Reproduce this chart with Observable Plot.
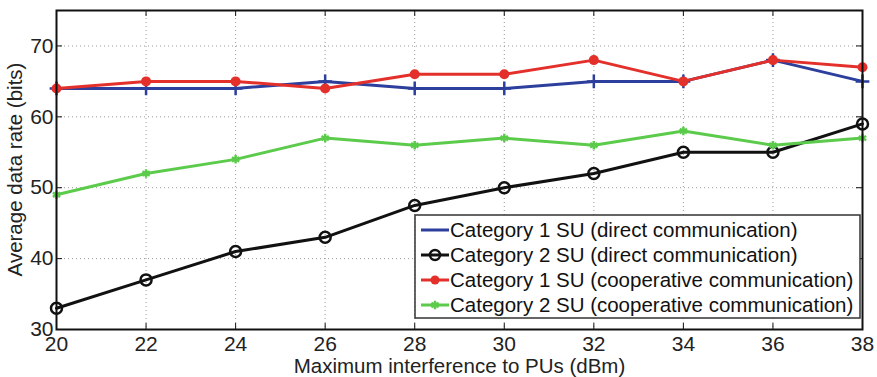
<!DOCTYPE html>
<html><head><meta charset="utf-8">
<script src="https://cdn.jsdelivr.net/npm/d3@7"></script>
<script src="https://cdn.jsdelivr.net/npm/@observablehq/plot@0.6"></script>
<style>body{margin:0;background:#fff;} svg{font-family:"Liberation Sans",Arial,sans-serif;}</style>
</head><body><div id="chart"></div>
<script>
const xs = [20,22,24,26,28,30,32,34,36,38];
const cat1Direct = [64,64,64,65,64,64,65,65,68,65];
const cat2Direct = [33,37,41,43,47.5,50,52,55,55,59];
const cat1Coop = [64,65,65,64,66,66,68,65,68,67];
const cat2Coop = [49,52,54,57,56,57,56,58,56,57];
const xTicks = [20,22,24,26,28,30,32,34,36,38];
const yTicks = [30,40,50,60,70];
const seriesNames = ["Category 1 SU (direct communication)","Category 2 SU (direct communication)","Category 1 SU (cooperative communication)","Category 2 SU (cooperative communication)"];
const colors = ["#2d3f9c","#111111","#e3302a","#5ccb4c"];

const W = 877, H = 377, mt = 10, mb = 48, ml = 56, mr = 15;
const ph = H - mt - mb, pw = W - ml - mr;
const tk = 6;
const FS = 20.5, TFS = 21;

const rows = (vals, s) => xs.map((x,i)=>({x, y: vals[i], s}));
const d0 = rows(cat1Direct,0), d1 = rows(cat2Direct,1), d2 = rows(cat1Coop,2), d3s = rows(cat2Coop,3);

const chart = Plot.plot({
  width: W, height: H, marginTop: mt, marginBottom: mb, marginLeft: ml, marginRight: mr,
  style: {fontFamily: '"Liberation Sans",Arial,sans-serif', fontSize: FS + "px", color: "#222"},
  x: {domain: [20,38], ticks: xTicks, label: null},
  y: {domain: [30,75], ticks: yTicks, label: null},
  marks: [
    Plot.gridX(xTicks, {stroke: "#999", strokeOpacity: 1, strokeDasharray: "1,3"}),
    Plot.gridY(yTicks, {stroke: "#999", strokeOpacity: 1, strokeDasharray: "1,3"}),
    Plot.ruleX(xTicks, {x: d=>d, insetTop: ph - tk, stroke: "#111"}),
    Plot.ruleX(xTicks, {x: d=>d, insetBottom: ph - tk, stroke: "#111"}),
    Plot.ruleY(yTicks, {y: d=>d, insetRight: pw - tk, stroke: "#111"}),
    Plot.ruleY(yTicks, {y: d=>d, insetLeft: pw - tk, stroke: "#111"}),
    Plot.axisX(xTicks, {tickSize: 0, tickPadding: 3, dy: 4, fontSize: TFS, fill: "#222"}),
    Plot.axisY(yTicks, {tickSize: 0, tickPadding: 3, fontSize: TFS, fill: "#222"}),
    Plot.line(d0, {x:"x", y:"y", stroke: colors[0], strokeWidth: 3}),
    Plot.dot(d0, {x:"x", y:"y", symbol: "plus", stroke: colors[0], strokeWidth: 2.5, r: 4.5}),
    Plot.line(d1, {x:"x", y:"y", stroke: colors[1], strokeWidth: 3}),
    Plot.dot(d1, {x:"x", y:"y", symbol: "circle", stroke: colors[1], fill: "none", strokeWidth: 2.5, r: 5.5}),
    Plot.line(d2, {x:"x", y:"y", stroke: colors[2], strokeWidth: 3}),
    Plot.dot(d2, {x:"x", y:"y", symbol: "circle", fill: colors[2], r: 5}),
    Plot.line(d3s, {x:"x", y:"y", stroke: colors[3], strokeWidth: 3}),
    Plot.dot(d3s, {x:"x", y:"y", symbol: "asterisk", stroke: colors[3], strokeWidth: 2.5, r: 4}),
    Plot.frame({stroke: "#111", strokeWidth: 2}),
    Plot.text(["Maximum interference to PUs (dBm)"], {frameAnchor: "bottom", dy: 43, fontSize: FS, fill: "#222"})
  ]
});
document.getElementById("chart").appendChild(chart);

const svg = d3.select(chart);
// y-axis label
svg.append("text").attr("transform", `translate(21.5,${mt + ph/2}) rotate(-90)`)
  .attr("text-anchor", "middle").attr("font-size", FS).attr("fill", "#222")
  .text("Average data rate (bits)");

// legend
const lg = svg.append("g").attr("text-anchor", "start");
const lx = 415, ly = 215, lw = 445, lh = 103;
lg.append("rect").attr("x", lx).attr("y", ly).attr("width", lw).attr("height", lh)
  .attr("fill", "#fff").attr("stroke", "#333").attr("stroke-width", 1.5);
seriesNames.forEach((name, i) => {
  const cy = ly + 15 + i * 25;
  const g = lg.append("g");
  g.append("line").attr("x1", lx + 6).attr("x2", lx + 34).attr("y1", cy).attr("y2", cy)
    .attr("stroke", colors[i]).attr("stroke-width", 3);
  const mx = lx + 20;
  if (i === 0) {
    g.append("path").attr("d", d3.symbol(d3.symbolPlus, 60)()).attr("transform", `translate(${mx},${cy})`).attr("fill", colors[i]);
  } else if (i === 1) {
    g.append("circle").attr("cx", mx).attr("cy", cy).attr("r", 5).attr("fill", "none").attr("stroke", colors[i]).attr("stroke-width", 2.5);
  } else if (i === 2) {
    g.append("circle").attr("cx", mx).attr("cy", cy).attr("r", 4.5).attr("fill", colors[i]);
  } else {
    g.append("path").attr("d", d3.symbol(d3.symbolAsterisk, 50)()).attr("transform", `translate(${mx},${cy})`).attr("fill", "none").attr("stroke", colors[i]).attr("stroke-width", 2.5);
  }
  g.append("text").attr("x", lx + 35).attr("y", cy).attr("dy", "0.35em")
    .attr("font-size", FS).attr("fill", "#111").text(name);
});
</script></body></html>
